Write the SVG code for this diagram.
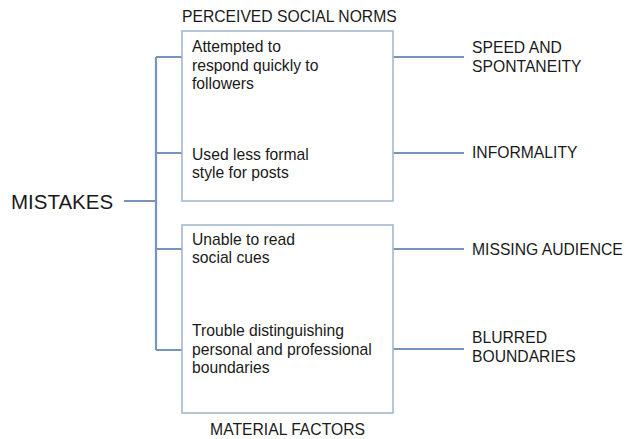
<svg xmlns="http://www.w3.org/2000/svg" width="626" height="439" viewBox="0 0 626 439">
<style>
text{font-family:"Liberation Sans",Arial,sans-serif;fill:#1a1a1a;font-size:15.7px}
.big{font-size:20.5px}
.box{fill:#fff;stroke:#a3b8d0;stroke-width:1.6}
.con{stroke:#7595ba;stroke-width:2.2;fill:none}
</style>
<rect width="626" height="439" fill="#fff"/>
<g id="connectors">
<path class="con" d="M124 201H156M156 57V350M156 57H182M156 153H182M156 249H182M156 350H182"/>
<path class="con" d="M393 57H464M393 153H464M393 249H464M393 349H464"/>
</g>
<g id="mistakes"><text class="big" x="11" y="209">MISTAKES</text></g>
<g id="perceived-social-norms">
<text x="182" y="22">PERCEIVED SOCIAL NORMS</text>
<rect class="box" x="182" y="31" width="211" height="170"/>
<text x="192" y="52">Attempted to</text>
<text x="192" y="71">respond quickly to</text>
<text x="192" y="89">followers</text>
<text x="192" y="160">Used less formal</text>
<text x="192" y="178">style for posts</text>
</g>
<g id="material-factors">
<rect class="box" x="182" y="225" width="211" height="188"/>
<text x="192" y="245">Unable to read</text>
<text x="192" y="263">social cues</text>
<text x="192" y="336">Trouble distinguishing</text>
<text x="192" y="355">personal and professional</text>
<text x="192" y="373">boundaries</text>
<text x="287.5" y="435" text-anchor="middle">MATERIAL FACTORS</text>
</g>
<g id="speed"><text x="472" y="53">SPEED AND</text><text x="472" y="72">SPONTANEITY</text></g>
<g id="informality"><text x="472" y="158">INFORMALITY</text></g>
<g id="missing-audience"><text x="472" y="255">MISSING AUDIENCE</text></g>
<g id="blurred"><text x="472" y="343">BLURRED</text><text x="472" y="362">BOUNDARIES</text></g>
</svg>
